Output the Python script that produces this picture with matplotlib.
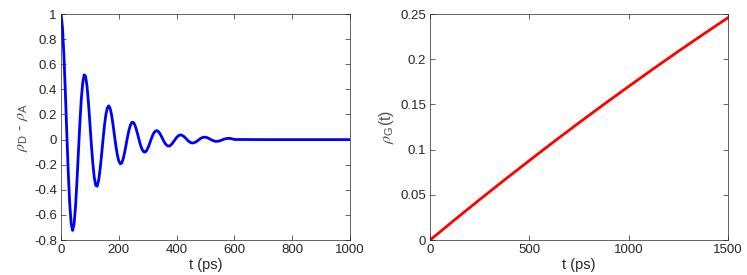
import numpy as np
import matplotlib.pyplot as plt

plt.rcParams['font.family'] = ['Liberation Sans', 'DejaVu Sans']
plt.rcParams['mathtext.fontset'] = 'custom'
plt.rcParams['mathtext.rm'] = 'Liberation Sans'
plt.rcParams['mathtext.it'] = 'STIXGeneral:italic'
plt.rcParams['axes.unicode_minus'] = False

# left panel: population difference, sampled every 5 ps up to 600 ps
t_left = list(range(0, 605, 5)) + [700, 800, 900, 1000]
diff = [
    1.000, 0.893, 0.672, 0.374, 0.048, -0.259, -0.508, -0.668, -0.723, -0.675,
    -0.538, -0.337, -0.105, 0.123, 0.318, 0.453, 0.516, 0.504, 0.422, 0.289,
    0.127, -0.041, -0.190, -0.302, -0.364, -0.371, -0.326, -0.240, -0.127, -0.006,
    0.107, 0.197, 0.252, 0.269, 0.248, 0.194, 0.117, 0.030, -0.054, -0.124,
    -0.172, -0.193, -0.186, -0.153, -0.102, -0.041, 0.021, 0.076, 0.116, 0.137,
    0.137, 0.119, 0.085, 0.043, -0.002, -0.044, -0.076, -0.095, -0.100, -0.091,
    -0.070, -0.041, -0.008, 0.023, 0.049, 0.065, 0.072, 0.068, 0.055, 0.036,
    0.013, -0.010, -0.030, -0.044, -0.051, -0.051, -0.043, -0.030, -0.014, 0.002,
    0.018, 0.029, 0.036, 0.037, 0.033, 0.025, 0.014, 0.002, -0.010, -0.019,
    -0.025, -0.027, -0.025, -0.020, -0.013, -0.004, 0.005, 0.012, 0.017, 0.019,
    0.019, 0.016, 0.011, 0.005, -0.002, -0.007, -0.011, -0.014, -0.014, -0.012,
    -0.009, -0.005, 0.000, 0.004, 0.007, 0.009, 0.010, 0.009, 0.007, 0.004,
    0.001, 0.0, 0.0, 0.0, 0.0,
]

# right panel: ground state population
t_right = [0, 125, 250, 375, 500, 625, 750, 875, 1000, 1125, 1250, 1375, 1500]
rho_g = [0.0, 0.0226, 0.0448, 0.0666, 0.088, 0.1091, 0.1298, 0.1501,
         0.170, 0.1896, 0.2088, 0.2276, 0.246]

left_yticks = [-0.8, -0.6, -0.4, -0.2, 0, 0.2, 0.4, 0.6, 0.8, 1]
left_xticks = [0, 200, 400, 600, 800, 1000]
right_yticks = [0, 0.05, 0.1, 0.15, 0.2, 0.25]
right_xticks = [0, 500, 1000, 1500]

ax_col = '#262626'
lab_col = '#505050'

def style(ax):
    ax.tick_params(direction='in', top=True, right=True, length=3.5, width=0.5,
                   colors=ax_col, labelsize=9.5, pad=3)
    for s in ax.spines.values():
        s.set_color(ax_col)
        s.set_linewidth(0.5)

fig = plt.figure(figsize=(7.47, 2.75), dpi=100)
ax1 = fig.add_axes([0.0817, 0.127, 0.387, 0.822])
ax2 = fig.add_axes([0.5757, 0.127, 0.399, 0.822])

ax1.plot(t_left, diff, color='#0000ff', lw=2)
ax1.set_xlim(0, 1000)
ax1.set_ylim(-0.8, 1)
ax1.set_xticks(left_xticks)
ax1.set_yticks(left_yticks)
ax1.set_yticklabels(['%g' % v for v in left_yticks])
ax1.set_xlabel('t (ps)', fontsize=10.5, color=ax_col, labelpad=1)
ax1.set_ylabel(r'$\rho_{\rm D}$ - $\rho_{\rm A}$', fontsize=11.5, color=lab_col, labelpad=3)
style(ax1)

ax2.plot(t_right, rho_g, color='#ff0000', lw=2)
ax2.set_xlim(0, 1500)
ax2.set_ylim(0, 0.25)
ax2.set_xticks(right_xticks)
ax2.set_yticks(right_yticks)
ax2.set_yticklabels(['%g' % v for v in right_yticks])
ax2.set_xlabel('t (ps)', fontsize=10.5, color=ax_col, labelpad=1)
ax2.set_ylabel(r'$\rho_{\rm G}$(t)', fontsize=11.5, color=lab_col, labelpad=3)
style(ax2)

fig.savefig('out.png', dpi=100)
